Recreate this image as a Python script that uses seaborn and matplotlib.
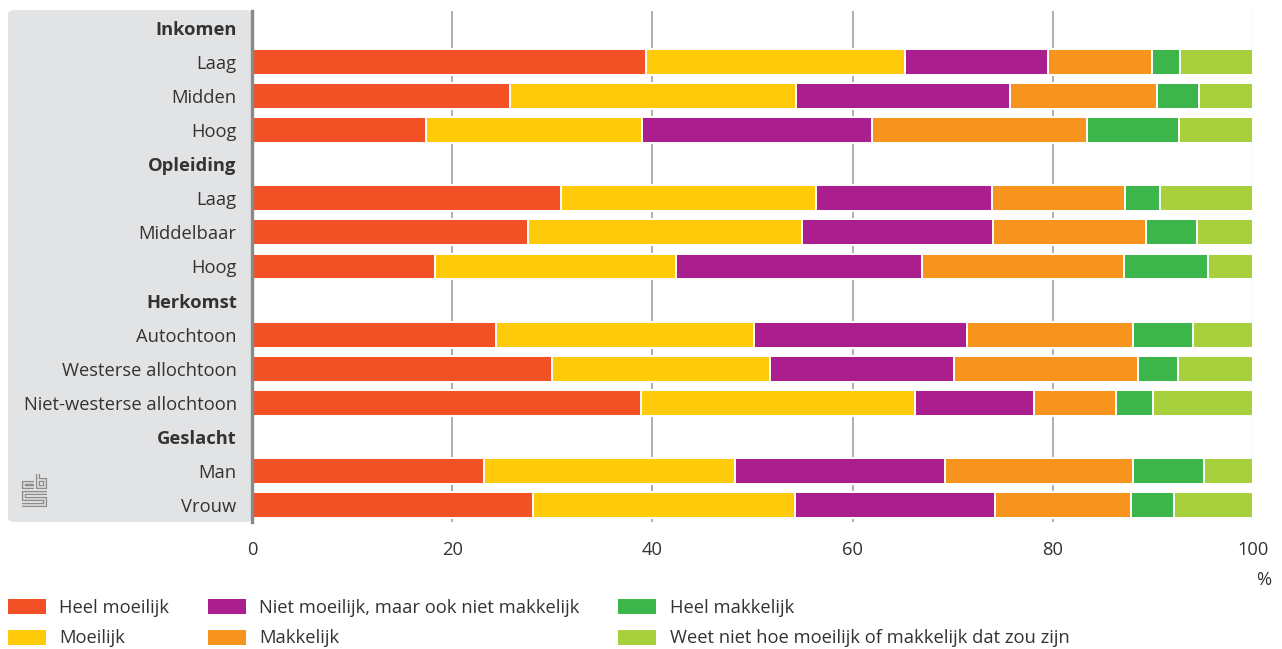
import numpy as np
import pandas as pd
import matplotlib
matplotlib.use("Agg")
import matplotlib.pyplot as plt
from matplotlib.patches import FancyBboxPatch, Patch
from matplotlib.lines import Line2D
import seaborn as sns

# Row labels (group headers have no bars)
row_labels = ["Inkomen", "Laag", "Midden", "Hoog",
              "Opleiding", "Laag", "Middelbaar", "Hoog",
              "Herkomst", "Autochtoon", "Westerse allochtoon", "Niet-westerse allochtoon",
              "Geslacht", "Man", "Vrouw"]
header_rows = ["Inkomen", "Opleiding", "Herkomst", "Geslacht"]

nan = np.nan
heel_moeilijk = [nan, 39.4, 25.8, 17.4, nan, 30.9, 27.6, 18.3, nan, 24.4, 30.0, 38.9, nan, 23.2, 28.1]
moeilijk = [nan, 25.8, 28.5, 21.6, nan, 25.4, 27.3, 24.1, nan, 25.7, 21.7, 27.3, nan, 25.1, 26.1]
niet_moeilijk_niet_makkelijk = [nan, 14.3, 21.4, 22.9, nan, 17.6, 19.1, 24.5, nan, 21.3, 18.4, 11.9, nan, 20.9, 20.0]
makkelijk = [nan, 10.4, 14.7, 21.5, nan, 13.3, 15.3, 20.2, nan, 16.6, 18.4, 8.2, nan, 18.8, 13.6]
heel_makkelijk = [nan, 2.8, 4.2, 9.2, nan, 3.5, 5.1, 8.4, nan, 6.0, 4.0, 3.7, nan, 7.1, 4.3]
weet_niet = [nan, 7.3, 5.4, 7.4, nan, 9.3, 5.6, 4.5, nan, 6.0, 7.5, 10.0, nan, 4.9, 7.9]

series_names = ["Heel moeilijk", "Moeilijk", "Niet moeilijk, maar ook niet makkelijk",
                "Makkelijk", "Heel makkelijk", "Weet niet hoe moeilijk of makkelijk dat zou zijn"]
series_values = [heel_moeilijk, moeilijk, niet_moeilijk_niet_makkelijk,
                 makkelijk, heel_makkelijk, weet_niet]
series_colors = ["#F15124", "#FFCA0A", "#AA1F8D", "#F7941E", "#3CB54A", "#A8CF3C"]

x_ticks = [0, 20, 40, 60, 80, 100]

# Unique row keys so repeated labels (Laag, Hoog) get their own slot
row_keys = [f"{i:02d} {lab}" for i, lab in enumerate(row_labels)]

df = pd.DataFrame({name: vals for name, vals in zip(series_names, series_values)})
df["row"] = row_keys
cum = df[series_names].cumsum(axis=1)

W, H = 1282, 649
fs = 13.2
fig = plt.figure(figsize=(W / 100, H / 100), dpi=100)
plt.rcParams["font.family"] = ["Open Sans", "DejaVu Sans"]
text_color = "#333333"
panel_color = "#E2E3E5"

# Grey label panel behind the category names
panel = FancyBboxPatch((8 / W, 1 - 522 / H), (252 - 8) / W, (522 - 10) / H,
                       boxstyle="round,pad=0,rounding_size=0.006",
                       transform=fig.transFigure, facecolor=panel_color,
                       edgecolor="none", zorder=-1)
fig.patches.append(panel)

ax = fig.add_axes([252 / W, 1 - 522 / H, (1253 - 252) / W, (522 - 11) / H])
ax.set_facecolor("white")

# Stacked bars: draw cumulative totals from the outermost segment inwards
for name, color in reversed(list(zip(series_names, series_colors))):
    sns.barplot(x=cum[name], y=df["row"], order=row_keys, orient="h",
                color=color, saturation=1, width=0.76, errorbar=None,
                edgecolor="white", linewidth=1.4, ax=ax, zorder=2)

ax.set_xlim(0, 100)
ax.set_ylim(len(row_keys) - 0.5, -0.5)
ax.set_xlabel("")
ax.set_ylabel("")

# Vertical gridlines
for xv in x_ticks[1:-1]:
    ax.axvline(xv, color="#9A9A9A", linewidth=1.1, zorder=1)
ax.axvline(100, color="#CFCFCF", linewidth=0.9, zorder=1)

for side in ["top", "right", "bottom"]:
    ax.spines[side].set_visible(False)
ax.spines["left"].set_color("#8A8A8A")
ax.spines["left"].set_linewidth(2.4)
ax.spines["left"].set_zorder(5)

ax.set_xticks(x_ticks)
ax.set_xticklabels([str(t) for t in x_ticks])
ax.tick_params(axis="x", length=0, pad=14, labelsize=fs, labelcolor=text_color)
ax.set_yticks(range(len(row_keys)))
ax.set_yticklabels(row_labels)
ax.tick_params(axis="y", length=0, pad=11, labelsize=fs, labelcolor=text_color)
for lab in ax.get_yticklabels():
    if lab.get_text() in header_rows:
        lab.set_fontweight("bold")

fig.text(1271 / W, 1 - 580 / H, "%", ha="right", va="center",
         fontsize=fs, color=text_color)

# Legend: two rows, three columns
handles = [Patch(facecolor=c, edgecolor="none") for c in series_colors]
fig.legend(handles, series_names, loc="upper left",
           bbox_to_anchor=(8 / W, 1 - 599 / H), ncol=3, frameon=False,
           borderpad=0, borderaxespad=0, fontsize=fs,
           handlelength=2.07, handleheight=0.9, handletextpad=0.72,
           columnspacing=2.12, labelspacing=0.68, labelcolor=text_color)

# CBS logo mark in the panel corner
def px(x, y):
    return x / W, 1 - y / H

logo_paths = [
    [(33.5, 482.5), (24.2, 482.5), (24.2, 486.6), (33.5, 486.6)],
    [(37.6, 473.6), (37.6, 486.6), (45.4, 486.6), (45.4, 480.3), (37.6, 480.3)],
    [(47.3, 492.6), (24.2, 492.6), (24.2, 499.0), (45.4, 499.0), (45.4, 505.4), (22.3, 505.4)],
]
for path in logo_paths:
    xs, ys = zip(*[px(x, y) for x, y in path])
    fig.add_artist(Line2D(xs, ys, transform=fig.transFigure, color="#8C8C8C",
                          linewidth=3.0, solid_joinstyle="miter", solid_capstyle="butt"))
    fig.add_artist(Line2D(xs, ys, transform=fig.transFigure, color=panel_color,
                          linewidth=1.1, solid_joinstyle="miter", solid_capstyle="butt"))

fig.savefig("out.png", dpi=100)
